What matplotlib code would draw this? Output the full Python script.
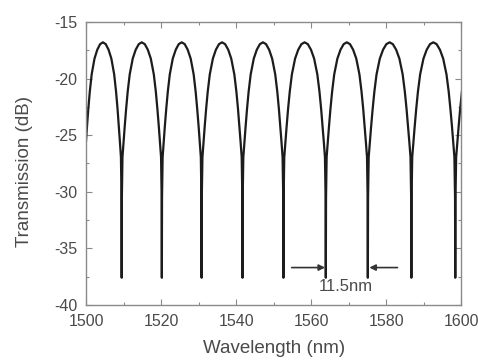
import matplotlib
matplotlib.use("Agg")
import matplotlib.pyplot as plt
from matplotlib.ticker import MultipleLocator

# Transmission spectrum (nm, dB)
wavelength = [
    1500.00, 1500.25, 1500.60, 1501.00, 1501.50, 1502.25, 1503.00, 1503.75, 1504.50,
    1505.25, 1506.00, 1506.75, 1507.50, 1508.00, 1508.40, 1508.75, 1509.05, 1509.30, 1509.45, 1509.50,
    1509.55, 1509.71, 1509.98, 1510.30, 1510.68, 1511.10, 1511.64, 1512.44, 1513.24, 1514.05, 1514.85,
    1515.65, 1516.46, 1517.26, 1518.06, 1518.60, 1519.02, 1519.40, 1519.72, 1519.99, 1520.15, 1520.20,
    1520.25, 1520.41, 1520.68, 1520.99, 1521.37, 1521.79, 1522.32, 1523.11, 1523.91, 1524.70, 1525.50,
    1526.30, 1527.09, 1527.89, 1528.68, 1529.21, 1529.63, 1530.01, 1530.32, 1530.59, 1530.75, 1530.80,
    1530.85, 1531.02, 1531.29, 1531.62, 1532.00, 1532.43, 1532.98, 1533.80, 1534.61, 1535.43, 1536.25,
    1537.07, 1537.89, 1538.70, 1539.52, 1540.07, 1540.50, 1540.88, 1541.21, 1541.48, 1541.65, 1541.70,
    1541.75, 1541.92, 1542.19, 1542.52, 1542.90, 1543.33, 1543.88, 1544.70, 1545.51, 1546.33, 1547.15,
    1547.97, 1548.79, 1549.60, 1550.42, 1550.97, 1551.40, 1551.78, 1552.11, 1552.38, 1552.55, 1552.60,
    1552.66, 1552.83, 1553.11, 1553.45, 1553.84, 1554.29, 1554.86, 1555.71, 1556.55, 1557.40, 1558.25,
    1559.10, 1559.95, 1560.79, 1561.64, 1562.21, 1562.66, 1563.05, 1563.39, 1563.67, 1563.84, 1563.90,
    1563.96, 1564.12, 1564.40, 1564.74, 1565.13, 1565.58, 1566.14, 1566.98, 1567.82, 1568.66, 1569.50,
    1570.34, 1571.18, 1572.02, 1572.86, 1573.42, 1573.87, 1574.26, 1574.60, 1574.88, 1575.04, 1575.10,
    1575.16, 1575.33, 1575.62, 1575.97, 1576.38, 1576.84, 1577.42, 1578.29, 1579.16, 1580.03, 1580.90,
    1581.77, 1582.64, 1583.51, 1584.38, 1584.96, 1585.42, 1585.83, 1586.18, 1586.47, 1586.64, 1586.70,
    1586.76, 1586.93, 1587.23, 1587.58, 1587.99, 1588.45, 1589.04, 1589.92, 1590.79, 1591.67, 1592.55,
    1593.43, 1594.31, 1595.18, 1596.06, 1596.65, 1597.11, 1597.53, 1597.88, 1598.17, 1598.34, 1598.40,
    1598.46, 1598.64, 1598.93, 1599.29, 1599.70, 1600.17,
]

transmission = [
    -25.50, -24.26, -22.70, -21.16, -19.63, -18.24, -17.45, -16.96, -16.80,
    -16.96, -17.45, -18.24, -19.63, -21.16, -22.70, -24.26, -25.70, -26.94, -30.50, -37.60,
    -30.50, -26.94, -25.70, -24.26, -22.70, -21.16, -19.63, -18.24, -17.45, -16.96, -16.80,
    -16.96, -17.45, -18.24, -19.63, -21.16, -22.70, -24.26, -25.70, -26.94, -30.50, -37.60,
    -30.50, -26.94, -25.70, -24.26, -22.70, -21.16, -19.63, -18.24, -17.45, -16.96, -16.80,
    -16.96, -17.45, -18.24, -19.63, -21.16, -22.70, -24.26, -25.70, -26.94, -30.50, -37.60,
    -30.50, -26.94, -25.70, -24.26, -22.70, -21.16, -19.63, -18.24, -17.45, -16.96, -16.80,
    -16.96, -17.45, -18.24, -19.63, -21.16, -22.70, -24.26, -25.70, -26.94, -30.50, -37.60,
    -30.50, -26.94, -25.70, -24.26, -22.70, -21.16, -19.63, -18.24, -17.45, -16.96, -16.80,
    -16.96, -17.45, -18.24, -19.63, -21.16, -22.70, -24.26, -25.70, -26.94, -30.50, -37.60,
    -30.50, -26.94, -25.70, -24.26, -22.70, -21.16, -19.63, -18.24, -17.45, -16.96, -16.80,
    -16.96, -17.45, -18.24, -19.63, -21.16, -22.70, -24.26, -25.70, -26.94, -30.50, -37.60,
    -30.50, -26.94, -25.70, -24.26, -22.70, -21.16, -19.63, -18.24, -17.45, -16.96, -16.80,
    -16.96, -17.45, -18.24, -19.63, -21.16, -22.70, -24.26, -25.70, -26.94, -30.50, -37.60,
    -30.50, -26.94, -25.70, -24.26, -22.70, -21.16, -19.63, -18.24, -17.45, -16.96, -16.80,
    -16.96, -17.45, -18.24, -19.63, -21.16, -22.70, -24.26, -25.70, -26.94, -30.50, -37.60,
    -30.50, -26.94, -25.70, -24.26, -22.70, -21.16, -19.63, -18.24, -17.45, -16.96, -16.80,
    -16.96, -17.45, -18.24, -19.63, -21.16, -22.70, -24.26, -25.70, -26.94, -30.50, -37.60,
    -30.50, -26.94, -25.70, -24.26, -22.70, -21.16,
]

# Annotation (free spectral range)
fsr_label = "11.5nm"
fsr_left_dip = 1563.9
fsr_right_dip = 1575.3
arrow_level = -36.7
label_level = -38.4

x_ticks = [1500, 1520, 1540, 1560, 1580, 1600]
y_ticks = [-40, -35, -30, -25, -20, -15]

plt.rcParams['font.family'] = ['Liberation Sans', 'DejaVu Sans']
plt.rcParams['axes.unicode_minus'] = False

fig = plt.figure(figsize=(4.78, 3.60), dpi=100)
ax = fig.add_axes([0.180, 0.153, 0.785, 0.786])

curve_color = '#1c1c1c'
text_color = '#4a4a4a'
spine_color = '#8a8a8a'

ax.plot(wavelength, transmission, color=curve_color, lw=1.6, solid_joinstyle='round')

ax.set_xlim(1500, 1600)
ax.set_ylim(-40, -15)
ax.set_xticks(x_ticks)
ax.set_yticks(y_ticks)
ax.xaxis.set_minor_locator(MultipleLocator(10))
ax.yaxis.set_minor_locator(MultipleLocator(2.5))

ax.tick_params(which='both', direction='in', top=True, right=True,
               colors=spine_color, labelcolor=text_color, labelsize=11.5, width=0.8)
ax.tick_params(which='major', length=4, pad=6.5)
ax.tick_params(which='minor', length=2.5)
for sp in ax.spines.values():
    sp.set_color(spine_color)
    sp.set_linewidth(1.0)

ax.set_xlabel("Wavelength (nm)", fontsize=13.5, color=text_color, labelpad=8)
ax.set_ylabel("Transmission (dB)", fontsize=13.5, color=text_color, labelpad=15)
ax.yaxis.label.set_y(0.47)

arrow_kw = dict(arrowstyle='-|>', color='#333333', lw=1.2, mutation_scale=9,
                shrinkA=0, shrinkB=0)
ax.annotate('', xy=(fsr_left_dip - 0.2, arrow_level), xytext=(1554.8, arrow_level),
            arrowprops=arrow_kw)
ax.annotate('', xy=(fsr_right_dip + 0.2, arrow_level), xytext=(1583.0, arrow_level),
            arrowprops=arrow_kw)
ax.text(1569.3, label_level, fsr_label, ha='center', va='center',
        fontsize=12, color=text_color)

fig.savefig("out.png", dpi=100, facecolor='white')
